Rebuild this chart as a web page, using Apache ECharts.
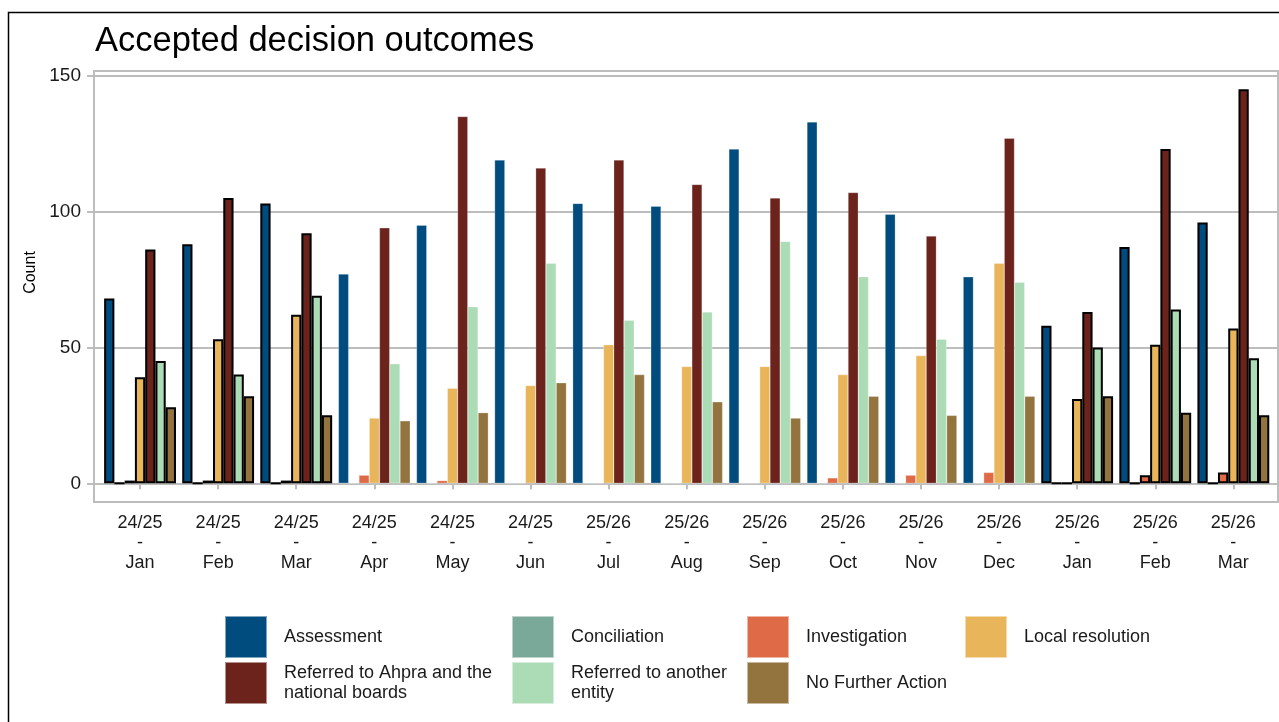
<!DOCTYPE html>
<html>
<head>
<meta charset="utf-8">
<script src="https://cdn.jsdelivr.net/npm/echarts@6/dist/echarts.min.js"></script>
<style>
  html, body { margin: 0; padding: 0; background: #fff; }
  #chart { width: 1279px; height: 722px; }
</style>
</head>
<body>
<div id="chart"></div>
<script>
// ---- data ----
const fiscalYears = ['24/25','24/25','24/25','24/25','24/25','24/25','25/26','25/26','25/26','25/26','25/26','25/26','25/26','25/26','25/26'];
const months = ['Jan','Feb','Mar','Apr','May','Jun','Jul','Aug','Sep','Oct','Nov','Dec','Jan','Feb','Mar'];
const seriesNames = ['Assessment','Conciliation','Investigation','Local resolution','Referred to Ahpra and the national boards','Referred to another entity','No Further Action'];
const assessment      = [68, 88, 103, 77, 95, 119, 103, 102, 123, 133, 99, 76, 58, 87, 96];
const conciliation    = [0, 0, 0, 0, 0, 0, 0, 0, 0, 0, 0, 0, 0, 0, 0];
const investigation   = [1, 1, 1, 3, 1, 0, 0, 0, 0, 2, 3, 4, 0, 3, 4];
const localResolution = [39, 53, 62, 24, 35, 36, 51, 43, 43, 40, 47, 81, 31, 51, 57];
const referredAhpra   = [86, 105, 92, 94, 135, 116, 119, 110, 105, 107, 91, 127, 63, 123, 145];
const referredOther   = [45, 40, 69, 44, 65, 81, 60, 63, 89, 76, 53, 74, 50, 64, 46];
const noFurtherAction = [28, 32, 25, 23, 26, 37, 40, 30, 24, 32, 25, 32, 32, 26, 25];
const yTicks = [0, 50, 100, 150];
const outlinedCategories = [0, 1, 2, 12, 13, 14];

const categories = fiscalYears.map((fy, i) => fy + ' - ' + months[i]);
const seriesValues = [assessment, conciliation, investigation, localResolution, referredAhpra, referredOther, noFurtherAction];
const colors = ['#004c7f', '#7aa999', '#df6a47', '#e9b55b', '#6b231c', '#acdcb6', '#93743f'];

const FONT = '"Liberation Sans", Arial, sans-serif';
const chart = echarts.init(document.getElementById('chart'));

const series = seriesNames.map((name, s) => ({
  name: name,
  type: 'bar',
  xAxisIndex: 1,
  yAxisIndex: 1,
  barGap: '0%',
  barCategoryGap: '8%',
  itemStyle: { color: colors[s], borderColor: 'rgba(255,255,255,0.5)', borderWidth: 0.5 },
  emphasis: { disabled: true },
  data: seriesValues[s].map((v, i) => outlinedCategories.includes(i)
    ? { value: v, itemStyle: { borderColor: '#000', borderWidth: 2 } }
    : v)
}));

// legend: one component per item so columns line up
const legendCols = [224, 511, 746, 964];
const legendRows = [615, 661];
const legends = seriesNames.map((name, i) => ({
  data: [name],
  left: legendCols[i % 4],
  top: legendRows[Math.floor(i / 4)],
  orient: 'horizontal',
  icon: 'rect',
  itemWidth: 42,
  itemHeight: 42,
  selectedMode: false,
  padding: 0,
  formatter: function (n) {
    if (n === 'Referred to Ahpra and the national boards') return 'Referred to Ahpra and the\nnational boards';
    if (n === 'Referred to another entity') return 'Referred to another\nentity';
    return n;
  },
  textStyle: { fontFamily: FONT, fontSize: 18, color: '#1a1a1a', lineHeight: 20, padding: [0, 0, 0, 12] }
}));

chart.setOption({
  animation: false,
  backgroundColor: '#fff',
  color: colors,
  title: {
    text: 'Accepted decision outcomes',
    left: 90,
    top: 19,
    textStyle: { fontFamily: FONT, fontSize: 34.5, fontWeight: 'normal', color: '#000' }
  },
  legend: legends,
  graphic: [
    { type: 'rect', z: -1, silent: true,
      shape: { x: 8.5, y: 12.5, width: 1400, height: 800 },
      style: { fill: 'none', stroke: '#000', lineWidth: 1.5 } },
    { type: 'rect', z: 0, silent: true,
      shape: { x: 94, y: 71, width: 1184, height: 431 },
      style: { fill: 'none', stroke: '#bdbdbd', lineWidth: 2 } }
  ],
  grid: [
    { left: 94, right: 1, top: 75.7, bottom: 722 - 483.3 },
    { left: 101, right: 6.6, top: 75.7, bottom: 722 - 483.3 }
  ],
  xAxis: [
    { gridIndex: 0, type: 'value', show: false, min: 0, max: 1 },
    { gridIndex: 1, type: 'category', data: categories,
      offset: 18.7,
      axisLine: { show: false },
      axisTick: { show: true, alignWithLabel: true, length: 6, lineStyle: { color: '#bdbdbd', width: 2 } },
      axisLabel: {
        fontFamily: FONT, fontSize: 18, color: '#1a1a1a', lineHeight: 20, margin: 11, interval: 0,
        formatter: function (v) { return v.replace(' - ', '\n-\n'); }
      }
    }
  ],
  yAxis: [
    { gridIndex: 0, type: 'value', min: yTicks[0], max: yTicks[yTicks.length - 1], interval: 50,
      name: 'Count', nameLocation: 'middle', nameRotate: 90, nameGap: 55,
      nameTextStyle: { fontFamily: FONT, fontSize: 16, color: '#000', padding: [0, 0, 0, 14] },
      axisLine: { show: false },
      axisTick: { show: true, length: 7, lineStyle: { color: '#bdbdbd', width: 2 } },
      axisLabel: { fontFamily: FONT, fontSize: 19, color: '#1a1a1a', margin: 13 },
      splitLine: { show: true, lineStyle: { color: '#bdbdbd', width: 2 } }
    },
    { gridIndex: 1, type: 'value', min: yTicks[0], max: yTicks[yTicks.length - 1], show: false, splitLine: { show: false } }
  ],
  series: series
});
</script>
</body>
</html>
